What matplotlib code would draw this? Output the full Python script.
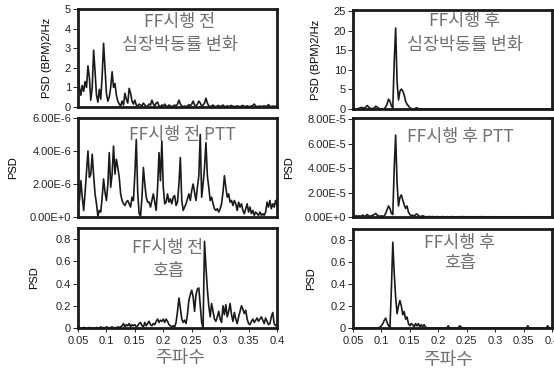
import numpy as np
import matplotlib
matplotlib.use("Agg")
import matplotlib.pyplot as plt

plt.rcParams['font.family'] = ['Liberation Sans', 'Noto Sans CJK KR', 'DejaVu Sans']

# frequency grid (Hz)
freq = np.linspace(0.05, 0.4, 141)

# PSD of heart-rate variability, before (BPM^2/Hz)
hrv_pre = [
    2.0, 1.0, 0.6, 1.1, 0.8, 1.3, 1.0, 2.1, 1.5, 0.35,
    1.0, 2.9, 1.8, 0.6, 0.25, 0.9, 0.4, 1.6, 3.25, 2.0,
    0.7, 0.3, 0.5, 1.0, 1.8, 1.0, 1.2, 0.6, 0.3, 0.15,
    0.05, 0.3, 0.1, 0.7, 0.4, 0.2, 0.95, 0.7, 0.3, 0.15,
    0.35, 0.1, 0.05, 0.15, 0.1, 0.05, 0.2, 0.1, 0.02, 0.05,
    0.15, 0.1, 0.35, 0.15, 0.05, 0.2, 0.25, 0.05, 0.02, 0.1,
    0.05, 0.15, 0.05, 0.02, 0.1, 0.05, 0.02, 0.05, 0.1, 0.05,
    0.15, 0.35, 0.15, 0.05, 0.02, 0.05, 0.02, 0.05, 0.12, 0.05,
    0.15, 0.3, 0.1, 0.05, 0.15, 0.3, 0.2, 0.05, 0.1, 0.2,
    0.45, 0.2, 0.05, 0.02, 0.05, 0.1, 0.03, 0.02, 0.05, 0.08,
    0.02, 0.05, 0.1, 0.03, 0.02, 0.06, 0.02, 0.05, 0.08, 0.02,
    0.04, 0.02, 0.06, 0.03, 0.02, 0.05, 0.08, 0.02, 0.03, 0.06,
    0.02, 0.03, 0.05, 0.08, 0.15, 0.05, 0.02, 0.03, 0.05, 0.02,
    0.04, 0.06, 0.02, 0.05, 0.12, 0.03, 0.02, 0.05, 0.03, 0.04,
    0.06,
]

# PSD of PTT, before (x1e-6)
ptt_pre = [
    1.6, 1.0, 2.2, 1.2, 0.4, 1.5, 2.8, 4.0, 2.4, 2.6,
    3.8, 2.5, 1.4, 0.8, 0.05, 0.4, 0.3, 1.2, 2.3, 1.5,
    1.0, 2.0, 3.9, 1.8, 2.6, 4.3, 2.6, 3.5, 3.0, 2.4,
    1.4, 1.0, 0.8, 0.7, 0.9, 1.0, 0.8, 0.6, 1.2, 1.0,
    2.6, 4.7, 1.5, 0.2, 0.05, 1.2, 3.0, 2.0, 1.2, 0.9,
    0.9, 0.6, 1.0, 1.4, 0.9, 0.4, 1.8, 3.9, 2.2, 4.6,
    1.8, 0.8, 0.9, 1.4, 0.9, 1.1, 0.8, 1.2, 1.3, 0.7,
    0.9, 2.0, 3.6, 1.0, 0.4, 0.6, 0.8, 1.1, 1.4, 1.0,
    1.6, 2.0, 1.5, 1.0, 1.8, 2.5, 5.0, 1.2, 2.0, 3.0,
    4.5, 2.5, 1.8, 1.0, 1.2, 0.8, 0.5, 0.4, 0.5, 0.3,
    0.5, 0.8, 1.5, 2.5, 1.8, 1.2, 1.4, 0.9, 1.0, 0.7,
    1.0, 0.8, 0.4, 0.9, 0.6, 0.8, 0.4, 0.2, 0.5, 0.8,
    0.3, 0.6, 0.2, 0.4, 0.1, 0.3, 0.2, 0.1, 0.3, 0.1,
    0.2, 0.1, 0.3, 0.9, 0.6, 1.0, 0.5, 0.8, 0.6, 1.0,
    0.7,
]

# PSD of respiration, before
resp_pre = [
    0, 0.005, 0, 0, 0.005, 0, 0, 0, 0.005, 0,
    0, 0, 0, 0.005, 0, 0, 0.01, 0, 0.005, 0,
    0.01, 0.005, 0, 0.005, 0.01, 0, 0.005, 0, 0.01, 0.005,
    0.01, 0.02, 0.04, 0.01, 0.03, 0.02, 0.04, 0.01, 0.03, 0.02,
    0.03, 0.01, 0.02, 0.04, 0.05, 0.02, 0.01, 0.05, 0.02, 0.04,
    0.06, 0.03, 0.02, 0.04, 0.03, 0.06, 0.08, 0.05, 0.07, 0.06,
    0.08, 0.05, 0.08, 0.06, 0.03, 0.02, 0.01, 0.02, 0.01, 0.05,
    0.15, 0.27, 0.18, 0.08, 0.05, 0.07, 0.04, 0.12, 0.25, 0.3,
    0.34, 0.28, 0.15, 0.3, 0.35, 0.36, 0.2, 0.05, 0.0, 0.78,
    0.55, 0.35, 0.2, 0.1, 0.22, 0.15, 0.08, 0.06, 0.1, 0.15,
    0.08, 0.05, 0.2, 0.12, 0.21, 0.1, 0.15, 0.22, 0.12, 0.06,
    0.14, 0.08, 0.04, 0.1, 0.15, 0.2, 0.17, 0.13, 0.16, 0.08,
    0.04, 0.03, 0.06, 0.08, 0.05, 0.07, 0.09, 0.06, 0.08, 0.1,
    0.07, 0.04, 0.09, 0.06, 0.03, 0.04, 0.1, 0.14, 0.04, 0.02,
    0.03,
]

# PSD of heart-rate variability, after (BPM^2/Hz)
hrv_post = [
    0, 0.05, 0, 0.05, 0.1, 0.3, 0.4, 0.3, 0.2, 0.5,
    0.9, 0.5, 0.2, 0.1, 0.1, 0.3, 0.7, 0.5, 0.2, 0.05,
    0.05, 0, 0.1, 0.5, 1.3, 2.5, 2.0, 0.8, 0.3, 12.0,
    20.7, 7.0, 2.3, 4.5, 5.1, 4.6, 3.6, 2.0, 1.2, 0.8,
    0.3, 0.1, 0.05, 0, 0.2, 0.3, 0.1, 0, 0, 0,
    0, 0, 0, 0, 0, 0, 0, 0, 0, 0,
    0, 0, 0, 0, 0, 0, 0, 0, 0, 0,
    0, 0, 0, 0, 0, 0, 0, 0, 0, 0,
    0, 0, 0, 0, 0, 0, 0, 0, 0, 0,
    0, 0, 0, 0, 0, 0, 0, 0, 0, 0,
    0, 0, 0, 0, 0, 0, 0, 0, 0, 0,
    0, 0, 0, 0, 0, 0, 0, 0, 0, 0,
    0, 0, 0, 0, 0, 0, 0, 0, 0, 0,
    0, 0, 0, 0, 0, 0, 0, 0, 0, 0,
    0,
]

# PSD of PTT, after (x1e-5)
ptt_post = [
    0, 0.05, 0.1, 0.05, 0.1, 0.05, 0.1, 0.15, 0.05, 0.1,
    0.2, 0.1, 0.05, 0.1, 0.15, 0.2, 0.3, 0.15, 0.1, 0.05,
    0.1, 0.05, 0.1, 0.3, 0.6, 0.9, 0.7, 0.3, 0.2, 4.0,
    6.7, 2.8, 0.9, 1.6, 1.8, 1.4, 1.0, 0.7, 0.9, 0.4,
    0.2, 0.1, 0.15, 0.05, 0.2, 0.25, 0.1, 0.05, 0.05, 0.1,
    0.05, 0.02, 0.03, 0.02, 0.04, 0.02, 0.03, 0.02, 0.02, 0.03,
    0.02, 0.01, 0.02, 0.03, 0.02, 0.01, 0.02, 0.02, 0.01, 0.02,
    0.03, 0.02, 0.01, 0.02, 0.02, 0.01, 0.02, 0.03, 0.02, 0.01,
    0.02, 0.01, 0.02, 0.02, 0.01, 0.02, 0.01, 0.02, 0.02, 0.01,
    0.02, 0.03, 0.01, 0.02, 0.01, 0.02, 0.01, 0.02, 0.02, 0.01,
    0.01, 0.02, 0.01, 0.01, 0.02, 0.01, 0.01, 0.02, 0.01, 0.01,
    0.02, 0.01, 0.01, 0.02, 0.01, 0.01, 0.02, 0.01, 0.01, 0.02,
    0.01, 0.01, 0.02, 0.01, 0.01, 0.02, 0.01, 0.01, 0.02, 0.01,
    0.01, 0.02, 0.01, 0.01, 0.02, 0.01, 0.01, 0.02, 0.01, 0.01,
    0.02,
]

# PSD of respiration, after
resp_post = [
    0, 0, 0, 0, 0, 0, 0, 0, 0, 0,
    0, 0, 0, 0, 0, 0, 0, 0, 0, 0.01,
    0.02, 0.04, 0.07, 0.09, 0.05, 0.02, 0.01, 0.35, 0.78, 0.5,
    0.28, 0.13, 0.2, 0.25, 0.2, 0.12, 0.15, 0.08, 0.1, 0.04,
    0.02, 0.04, 0.03, 0.01, 0.04, 0.02, 0.04, 0.01, 0.03, 0.01,
    0.03, 0.01, 0, 0, 0, 0, 0, 0, 0, 0,
    0, 0, 0, 0, 0, 0, 0, 0.02, 0, 0,
    0, 0, 0, 0, 0, 0.02, 0.01, 0, 0, 0,
    0, 0, 0, 0, 0, 0, 0, 0, 0, 0,
    0, 0, 0, 0, 0, 0, 0, 0, 0, 0,
    0, 0, 0, 0, 0, 0, 0, 0, 0, 0,
    0, 0, 0, 0, 0, 0, 0, 0, 0, 0,
    0, 0, 0, 0.02, 0, 0, 0, 0, 0, 0,
    0, 0, 0, 0, 0, 0, 0, 0.02, 0, 0,
    0,
]

xticks = [0.05, 0.1, 0.15, 0.2, 0.25, 0.3, 0.35, 0.4]
xticklabels = ["0.05", "0.1", "0.15", "0.2", "0.25", "0.3", "0.35", "0.4"]

W, H = 554, 373
GRAY = "#707070"
KFONT = ['Noto Sans CJK KR', 'DejaVu Sans']
TICK = 8

fig = plt.figure(figsize=(W / 100, H / 100), dpi=100)


def px_axes(x0, y0, x1, y1):
    """axes from pixel box (top-left origin)"""
    return fig.add_axes([x0 / W, 1 - y1 / H, (x1 - x0) / W, (y1 - y0) / H])


def style(ax, bottom=False):
    for s in ax.spines.values():
        s.set_linewidth(2.0)
        s.set_color("#1a1a1a")
    ax.set_xlim(0.05, 0.4)
    ax.tick_params(axis="y", direction="out", length=3.5, width=0.7,
                   labelsize=TICK, pad=1.5, colors="#222222")
    if bottom:
        ax.set_xticks(xticks)
        ax.set_xticklabels(xticklabels)
        ax.tick_params(axis="x", direction="out", length=3, width=0.7,
                       labelsize=TICK, pad=3, colors="#222222")
    else:
        ax.set_xticks([])


def ktext(x, y, s, size=12.5):
    fig.text(x / W, 1 - y / H, s, ha="center", va="center", fontsize=size,
             color=GRAY, family=KFONT)


def ylab(ax, s, xpix, x0):
    ax.set_ylabel(s, fontsize=8)
    ax.yaxis.set_label_coords((xpix - x0) / 199.0, 0.5)


LW = 1.2

# left column - before
ax1 = px_axes(78, 9, 277, 107)
ax1.plot(freq, hrv_pre, color="#1a1a1a", lw=LW)
style(ax1)
ax1.set_ylim(0, 5)
ax1.set_yticks([0, 1, 2, 3, 4, 5])
ylab(ax1, "PSD (BPM)2/Hz", 52, 78)

ax2 = px_axes(78, 118, 277, 217)
ax2.plot(freq, np.array(ptt_pre) * 1e-6, color="#1a1a1a", lw=LW)
style(ax2)
ax2.set_ylim(0, 6e-6)
ax2.set_yticks([0, 2e-6, 4e-6, 6e-6])
ax2.set_yticklabels(["0.00E+0", "2.00E-6", "4.00E-6", "6.00E-6"])
ylab(ax2, "PSD", 18, 78)

ax3 = px_axes(78, 228, 277, 328)
ax3.plot(freq, resp_pre, color="#1a1a1a", lw=LW)
style(ax3, bottom=True)
ax3.set_ylim(0, 0.9)
ax3.set_yticks([0, 0.2, 0.4, 0.6, 0.8])
ax3.set_yticklabels(["0", "0.2", "0.4", "0.6", "0.8"])
ylab(ax3, "PSD", 39, 78)

# right column - after
ax4 = px_axes(353, 10, 552, 109)
ax4.plot(freq, hrv_post, color="#1a1a1a", lw=LW)
style(ax4)
ax4.set_ylim(0, 25.3)
ax4.set_yticks([0, 5, 10, 15, 20, 25])
ylab(ax4, "PSD (BPM)2/Hz", 321, 353)

ax5 = px_axes(353, 118, 552, 217)
ax5.plot(freq, np.array(ptt_post) * 1e-5, color="#1a1a1a", lw=LW)
style(ax5)
ax5.set_ylim(0, 8.1e-5)
ax5.set_yticks([0, 2e-5, 4e-5, 6e-5, 8e-5])
ax5.set_yticklabels(["0.00E+0", "2.00E-5", "4.00E-5", "6.00E-5", "8.00E-5"])
ylab(ax5, "PSD", 294, 353)

ax6 = px_axes(353, 229, 552, 328)
ax6.plot(freq, resp_post, color="#1a1a1a", lw=LW)
style(ax6, bottom=True)
ax6.set_ylim(0, 0.9)
ax6.set_yticks([0, 0.2, 0.4, 0.6, 0.8])
ax6.set_yticklabels(["0", "0.2", "0.4", "0.6", "0.8"])
ylab(ax6, "PSD", 316, 353)

# panel captions
ktext(180, 22, "FF시행 전")
ktext(180, 45, "심장박동률 변화")
ktext(465, 21, "FF시행 후")
ktext(465, 45, "심장박동률 변화")
ktext(182, 135, "FF시행 전 PTT")
ktext(460, 137, "FF시행 후 PTT")
ktext(168, 248, "FF시행 전")
ktext(168, 271, "호흡")
ktext(460, 243, "FF시행 후")
ktext(460, 263, "호흡")
ktext(180, 358, "주파수", size=13)
ktext(448, 360, "주파수", size=13)

fig.savefig("out.png", dpi=100)
